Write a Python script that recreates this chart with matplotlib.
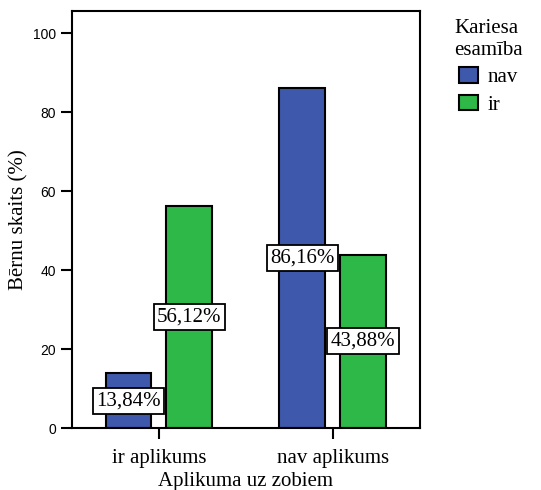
import matplotlib
matplotlib.use("Agg")
import matplotlib.pyplot as plt
import numpy as np

groups = ["ir aplikums", "nav aplikums"]
series = ["nav", "ir"]
values = {
    "nav": [13.84, 86.16],
    "ir": [56.12, 43.88],
}
colors = {"nav": "#3E58AC", "ir": "#2EB848"}
labels = {
    "nav": ["13,84%", "86,16%"],
    "ir": ["56,12%", "43,88%"],
}

serif = "Liberation Serif"
sans = "Liberation Sans"

fig = plt.figure(figsize=(5.41, 4.90), dpi=100)
ax = fig.add_axes([0.133, 0.1265, 0.643, 0.851])

x = np.arange(len(groups))
width = 0.264
offsets = {"nav": -0.175, "ir": 0.175}

for s in series:
    bars = ax.bar(x + offsets[s], values[s], width, color=colors[s],
                  edgecolor="black", linewidth=1.5, label=s, zorder=2)
    for b, v, t in zip(bars, values[s], labels[s]):
        ax.text(b.get_x() + b.get_width() / 2, v / 2, t,
                ha="center", va="center", fontsize=15, family=serif,
                bbox=dict(boxstyle="square,pad=0.17", fc="white",
                          ec="black", lw=1.3), zorder=3)

ax.set_xlim(-0.5, 1.5)
ax.set_ylim(0, 105.6)
ax.set_yticks([0, 20, 40, 60, 80, 100])
ax.set_xticks(x)
ax.set_xticklabels(groups, family=serif, fontsize=15)
for lab in ax.get_yticklabels():
    lab.set_family(sans)
    lab.set_fontsize(10)

ax.tick_params(axis="both", direction="out", length=8, width=1.5,
               color="black")
ax.tick_params(axis="x", pad=7)
for sp in ax.spines.values():
    sp.set_linewidth(1.5)

ax.set_xlabel("Aplikuma uz zobiem", family=serif, fontsize=15, labelpad=3)
ax.set_ylabel("Bērnu skaits (%)", family=serif, fontsize=15, labelpad=3)

leg = ax.legend(title="Kariesa\nesamība", loc="upper left",
                bbox_to_anchor=(1.075, 1.0), frameon=False,
                prop={"family": serif, "size": 15},
                handlelength=0.9, handleheight=0.75, handletextpad=0.45,
                borderaxespad=0, labelspacing=0.35)
leg.get_title().set_family(serif)
leg.get_title().set_fontsize(15)

fig.savefig("out.png", dpi=100)
